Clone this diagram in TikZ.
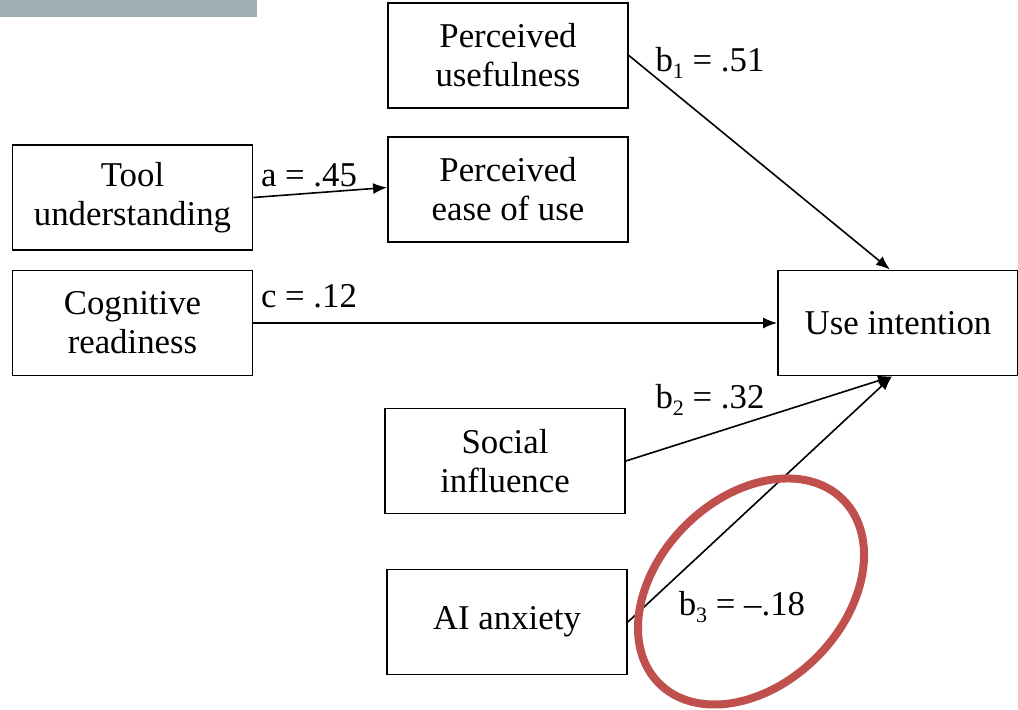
\documentclass[tikz,border=0pt]{standalone}
\usepackage{fontspec}
\setmainfont{Liberation Serif}
\usetikzlibrary{arrows.meta}
\definecolor{barblue}{HTML}{9DAEB5}
\definecolor{annotred}{HTML}{C0504D}
\newcommand{\coefsub}[1]{\raisebox{-0.45ex}{\fontsize{11}{11}\selectfont #1}}
\tikzset{
  var/.style={draw, line width=0.9pt, minimum width=120pt, minimum height=52.5pt,
    inner sep=0pt, align=center, font=\fontsize{17.4}{19.5}\selectfont},
  coef/.style={inner sep=0pt, font=\fontsize{17.4}{19.5}\selectfont}
}
\begin{document}
\begin{tikzpicture}[x=0.5pt,y=0.5pt,>={Latex[length=7pt,width=5.5pt]}]
\useasboundingbox (0,0) rectangle (1018,710);
\fill[color=barblue] (0,693) rectangle (257,710);
\foreach \n/\x/\y/\t in {pu/508/654.5/{Perceived\\usefulness},
    tool/132.5/512.5/{Tool\\understanding}, peou/508/520.5/{Perceived\\ease of use},
    cog/132.5/387/{Cognitive\\readiness}, ui/898/387/{Use intention},
    si/505/249/{Social\\influence}, ai/507/88/{AI anxiety}}
  \node[var] (\n) at (\x,\y) {\t};
\draw[->,line width=0.8pt] (pu.east) -- ([xshift=-4pt]ui.north);
\draw[->,line width=0.8pt] (tool.east) -- ([yshift=1pt]peou.west);
\draw[->,line width=0.8pt] (cog.east) -- (ui.west);
\draw[->,line width=0.8pt] (si.east) -- ([xshift=-3pt]ui.south);
\draw[->,line width=0.8pt] (ai.east) -- ([xshift=-3pt]ui.south);
\node[coef] (ca) at (309,535) {a = .45};
\node[coef] (cb1) at (710,647) {b\coefsub{1} = .51};
\node[coef] (cc) at (309,414) {c = .12};
\node[coef] (cb2) at (710,310) {b\coefsub{2} = .32};
\node[coef] (cb3) at (742,103) {b\coefsub{3} = –.18};
\draw[color=annotred, line width=4pt, rotate around={45:(751,118.5)}]
  (751,118.5) ellipse [x radius=65pt, y radius=46.5pt];
\end{tikzpicture}
\end{document}
